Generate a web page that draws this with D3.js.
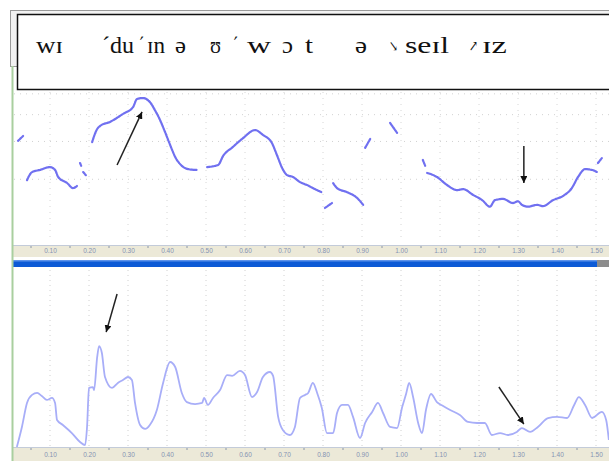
<!DOCTYPE html>
<html><head><meta charset="utf-8">
<script src="https://cdn.jsdelivr.net/npm/d3@7"></script>
<style>html,body{margin:0;padding:0;background:#fff;overflow:hidden}svg{display:block}</style>
</head><body>
<script>
// ---- data ----
const timeTicks = [0.1,0.2,0.3,0.4,0.5,0.6,0.7,0.8,0.9,1.0,1.1,1.2,1.3,1.4,1.5];
const minorTicks = [0.05,0.15,0.25,0.35,0.45,0.55,0.65,0.75,0.85,0.95,1.05,1.15,1.25,1.35,1.45];
const pitchGrid = [200,300,400,500];
// pitch contour (time s, Hz), voiced stretches
const pitchA = [[0.018,302],[0.031,318]];
const pitchB = [[0.041,198],[0.054,216],[0.074,221],[0.100,228],[0.113,221],[0.121,205],[0.144,192],[0.159,182],[0.169,186]];
const pitchC1 = [[0.177,238],[0.180,231]];
const pitchC2 = [[0.185,216],[0.192,209]];
const pitchD = [[0.208,298],[0.221,343],[0.228,354],[0.254,370],[0.287,403],[0.313,434],[0.323,473],[0.338,478],[0.356,458],[0.369,420],[0.382,378],[0.395,332],[0.408,289],[0.421,254],[0.438,231],[0.454,223],[0.477,221]];
const pitchE = [[0.503,228],[0.531,233],[0.544,257],[0.569,283],[0.595,311],[0.626,339],[0.646,322],[0.669,295],[0.682,259],[0.695,226],[0.708,209],[0.723,205],[0.741,194],[0.759,188],[0.779,180],[0.797,174]];
const pitchF = [[0.826,192],[0.836,182],[0.862,174],[0.887,164],[0.903,152]];
const pitchG = [[0.805,147],[0.823,155]];
const pitchH = [[0.908,280],[0.921,308]];
const pitchI = [[0.972,366],[0.990,329]];
const pitchJ = [[1.056,246],[1.062,231]];
const pitchK = [[1.067,214],[1.092,205],[1.118,188],[1.144,178],[1.159,180],[1.185,169],[1.208,160],[1.228,149],[1.241,160],[1.262,162],[1.287,155],[1.300,158],[1.310,152],[1.326,149],[1.349,152],[1.364,150],[1.390,160],[1.415,167],[1.438,182],[1.454,205],[1.472,223],[1.490,221],[1.503,216]];
const pitchL = [[1.505,238],[1.515,251]];
const pitchSegments = [pitchA,pitchB,pitchC1,pitchC2,pitchD,pitchE,pitchF,pitchG,pitchH,pitchI,pitchJ,pitchK,pitchL];
// intensity contour (time s, relative dB)
const intensity = [[0.015,0],[0.028,11.2],[0.041,24.6],[0.054,29.1],[0.067,30.2],[0.079,28.5],[0.092,26.3],[0.105,27.4],[0.113,24.6],[0.118,15.1],[0.133,12.3],[0.156,7.8],[0.177,2.8],[0.190,1.1],[0.195,11.2],[0.200,33.0],[0.210,33.5],[0.213,31.8],[0.221,50.3],[0.226,56.4],[0.233,52.5],[0.241,39.1],[0.259,33.0],[0.274,35.8],[0.287,37.4],[0.300,39.1],[0.310,37.4],[0.318,24.6],[0.331,12.3],[0.344,10.1],[0.356,12.3],[0.374,20.7],[0.390,35.8],[0.408,47.5],[0.421,44.7],[0.438,30.2],[0.451,25.1],[0.472,24.0],[0.490,24.6],[0.495,27.4],[0.505,23.5],[0.518,27.4],[0.536,31.8],[0.554,40.2],[0.567,39.7],[0.587,42.5],[0.600,40.2],[0.618,27.9],[0.631,30.7],[0.646,39.1],[0.664,41.9],[0.672,39.7],[0.685,16.8],[0.697,9.5],[0.715,6.7],[0.728,11.2],[0.741,27.4],[0.754,29.1],[0.762,30.2],[0.774,35.8],[0.785,30.2],[0.797,21.8],[0.810,7.8],[0.826,7.8],[0.836,19.0],[0.849,23.5],[0.864,23.5],[0.877,16.8],[0.895,5.0],[0.908,13.4],[0.926,19.6],[0.941,24.6],[0.954,19.0],[0.972,11.2],[0.990,10.6],[1.003,22.3],[1.013,29.6],[1.021,35.8],[1.031,27.9],[1.044,13.4],[1.054,7.8],[1.064,20.7],[1.077,29.6],[1.092,25.1],[1.108,22.9],[1.126,20.7],[1.151,17.9],[1.172,14.0],[1.195,13.4],[1.215,13.4],[1.233,6.7],[1.254,7.8],[1.274,6.7],[1.297,8.4],[1.310,10.6],[1.331,8.4],[1.351,11.2],[1.377,16.2],[1.400,16.8],[1.426,16.2],[1.444,23.5],[1.456,27.9],[1.472,23.5],[1.490,16.2],[1.515,19.6],[1.526,15.1],[1.533,3.9]];
// annotation arrows: [tailT, tailV, tipT, tipV]
const pitchArrows = [[0.272,233,0.336,412],[1.315,286,1.315,192]];
const intensityArrows = [[0.272,85.5,0.244,64.2],[1.251,33.5,1.315,12.8]];
// transcription
const transcription = ["wɪ","´du","´","ɪn","ə","ʊ","´","w","ɔ","t","ə","↘","seɪl","↗","ɪz"];

// ---- layout ----
const W = 609, H = 461;
// [x, width, fontSize]
const titleLayout = [[36,27,24],[102,32,24],[139,5,24],[147,18,24],[175,11,24],[210,11,24],[233,5,24],[247,24,24],[282,11,24],[305,8,24],[355,12,24],[389,9,15],[405,44,24],[469,9,15],[482,25,24]];

const svg = d3.select("body").append("svg").attr("width",W).attr("height",H);

const x = d3.scaleLinear().domain([0,1.5]).range([11,596]);
const yP = d3.scaleLog().domain([110,510]).range([235,92]);
const yI = d3.scaleLinear().domain([0,100]).range([447,268]);

svg.append("defs").append("marker").attr("id","ah").attr("viewBox","0 0 10 10")
  .attr("refX",10).attr("refY",5).attr("markerWidth",7).attr("markerHeight",7)
  .attr("markerUnits","userSpaceOnUse").attr("orient","auto")
  .append("path").attr("d","M0,0L10,5L0,10Z").attr("fill","#111");

// top window frame
svg.append("rect").attr("x",10.5).attr("y",10.5).attr("width",640).attr("height",56).attr("fill","#f2f2f2").attr("stroke","#9a9a9a");

// upper grid
const gU = svg.append("g");
gU.selectAll(".hg").data(pitchGrid).join("line")
  .attr("x1",14).attr("x2",W).attr("y1",d=>yP(d)).attr("y2",d=>yP(d))
  .attr("stroke","#d2d2d2").attr("stroke-dasharray","1,5");
gU.selectAll(".vg").data(timeTicks).join("line")
  .attr("x1",d=>x(d)).attr("x2",d=>x(d)).attr("y1",92).attr("y2",240)
  .attr("stroke","#d6d6d6").attr("stroke-dasharray","1,5");

// lower grid
svg.append("g").selectAll("line").data(timeTicks).join("line")
  .attr("x1",d=>x(d)).attr("x2",d=>x(d)).attr("y1",270).attr("y2",446)
  .attr("stroke","#d0d0d0").attr("stroke-dasharray","1,4");

// pitch contour
const lineP = d3.line().x(d=>x(d[0])).y(d=>yP(d[1])).curve(d3.curveMonotoneX);
svg.append("g").selectAll("path").data(pitchSegments).join("path")
  .attr("d",lineP).attr("fill","none").attr("stroke","#7070f0").attr("stroke-width",2.2)
  .attr("stroke-linecap","round").attr("stroke-linejoin","round").attr("stroke-dasharray","2,0.8");

// intensity contour
const lineI = d3.line().x(d=>x(d[0])).y(d=>yI(d[1])).curve(d3.curveMonotoneX);
svg.append("path").datum(intensity).attr("d",lineI).attr("fill","none")
  .attr("stroke","#a8aef8").attr("stroke-width",1.8).attr("stroke-linejoin","round");

// axis bands
function band(y0, h, padding){
  svg.append("rect").attr("x",12).attr("y",y0).attr("width",W-12).attr("height",h).attr("fill","#ece9d8");
  svg.append("line").attr("x1",12).attr("x2",W).attr("y1",y0+0.5).attr("y2",y0+0.5).attr("stroke","#c3cbd9");
  const ax = svg.append("g").attr("transform",`translate(0,${y0})`)
    .call(d3.axisBottom(x).tickValues(timeTicks).tickFormat(d3.format(".2f")).tickSize(0).tickPadding(padding));
  ax.select(".domain").remove();
  ax.selectAll("text").attr("font-family","Arial, Liberation Sans, sans-serif").attr("font-size",6.5).attr("fill","#8493b3");
  const mn = svg.append("g").attr("transform",`translate(0,${y0+1})`)
    .call(d3.axisBottom(x).tickValues(minorTicks).tickSize(2).tickFormat(""));
  mn.select(".domain").remove();
  mn.selectAll("line").attr("stroke","#8a96aa");
}
band(245,12,3);
band(447,14,5);

// blue splitter bar
svg.append("rect").attr("x",12).attr("y",260).attr("width",585).attr("height",7).attr("fill","#0c5ad6");
svg.append("rect").attr("x",12).attr("y",260).attr("width",585).attr("height",1.5).attr("fill","#5d93ea");
svg.append("rect").attr("x",597).attr("y",260).attr("width",12).attr("height",7).attr("fill","#8c8c8c");

// green left edge
svg.append("line").attr("x1",12.5).attr("x2",12.5).attr("y1",66).attr("y2",H).attr("stroke","#a9cf9f").attr("stroke-width",2);

// transcription box
svg.append("rect").attr("x",17.5).attr("y",14.5).attr("width",640).attr("height",75).attr("fill","#fff").attr("stroke","#111").attr("stroke-width",1.5);
svg.append("g").selectAll("text").data(transcription).join("text")
  .attr("x",(d,i)=>titleLayout[i][0]).attr("y",(d,i)=>titleLayout[i][2] < 20 ? 51 : 53)
  .attr("textLength",(d,i)=>titleLayout[i][1]).attr("lengthAdjust","spacingAndGlyphs")
  .attr("font-family","Liberation Serif, Times New Roman, DejaVu Serif, serif")
  .attr("font-size",(d,i)=>titleLayout[i][2]).attr("fill","#111")
  .text(d=>d);

// arrows
svg.append("g").selectAll("line").data(pitchArrows).join("line")
  .attr("x1",d=>x(d[0])).attr("y1",d=>yP(d[1])).attr("x2",d=>x(d[2])).attr("y2",d=>yP(d[3]))
  .attr("stroke","#222").attr("stroke-width",1.5).attr("marker-end","url(#ah)");
svg.append("g").selectAll("line").data(intensityArrows).join("line")
  .attr("x1",d=>x(d[0])).attr("y1",d=>yI(d[1])).attr("x2",d=>x(d[2])).attr("y2",d=>yI(d[3]))
  .attr("stroke","#222").attr("stroke-width",1.5).attr("marker-end","url(#ah)");
</script>
</body></html>
